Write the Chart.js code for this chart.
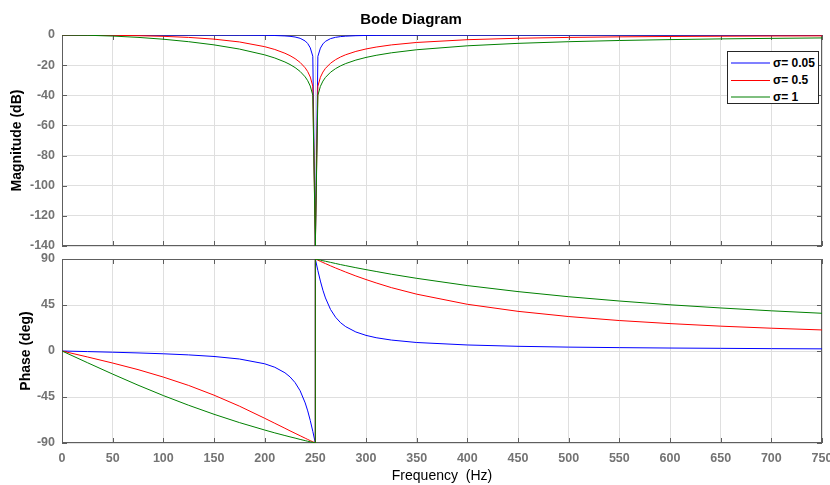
<!DOCTYPE html>
<html>
<head>
<meta charset="utf-8">
<script src="https://cdn.jsdelivr.net/npm/chart.js@4.4.1/dist/chart.umd.min.js"></script>
<style>
  body { margin: 0; background: #fff; font-family: 'Liberation Sans', Arial, sans-serif; }
  #lienzo { position: relative; width: 830px; height: 485px; overflow: hidden; }
  #magnitud { position: absolute; left: 0; top: 0; }
  #fase { position: absolute; left: 0; top: 251px; }
  #leyenda {
    position: absolute; left: 727px; top: 51px; width: 92px; height: 53px;
    box-sizing: border-box; border: 1px solid #262626; background: #fff;
    padding: 3px 0 0 3px;
  }
  .fila { position: relative; height: 16px; margin-bottom: 1px; font: bold 12px 'Liberation Sans', Arial, sans-serif; color: #000; }
  .muestra { position: absolute; left: 0; width: 39px; }
  .texto { position: absolute; left: 42px; top: 1px; line-height: 14px; }
</style>
</head>
<body>
<div id="lienzo">
  <canvas id="magnitud" width="830" height="251"></canvas>
  <canvas id="fase" width="830" height="234"></canvas>
  <div id="leyenda"></div>
</div>
<script>
// Datos (Hz, dB, grados)
const frecuencias = [0, 25, 50, 75, 100, 125, 150, 175, 200, 210, 220, 225, 230, 235, 240, 242.5, 245, 247.5, 250, 250,
  252.5, 255, 257.5, 260, 265, 270, 275, 280, 290, 300, 310, 325, 350, 400, 450, 500, 550, 600, 650, 700, 750];

const magAzul = [0, 0, 0, 0, -0.01, -0.02, -0.04, -0.08, -0.21, -0.34, -0.62, -0.88, -1.33, -2.18, -3.98, -5.68, -8.53, -14.1, -140, -140,
  -14.2, -8.7, -5.9, -4.2, -2.4, -1.53, -1.05, -0.77, -0.46, -0.31, -0.23, -0.15, -0.09, -0.05, -0.03, -0.02, -0.01, -0.01, -0.01, -0.01, -0.01];
const magRojo = [0, -0.04, -0.19, -0.45, -0.89, -1.6, -2.74, -4.6, -7.74, -9.61, -12.1, -13.7, -15.67, -18.21, -21.79, -24.32, -27.88, -33.94, -140, -140,
  -34.02, -28.05, -24.58, -22.13, -18.72, -16.35, -14.54, -13.09, -10.89, -9.26, -8.01, -6.58, -4.95, -3.12, -2.16, -1.6, -1.23, -0.98, -0.81, -0.67, -0.57];
const magVerde = [0, -0.17, -0.7, -1.57, -2.8, -4.44, -6.55, -9.31, -13.17, -15.26, -17.91, -19.58, -21.6, -24.18, -27.79, -30.33, -33.89, -39.96, -140, -140,
  -40.04, -34.07, -30.59, -28.13, -24.7, -22.29, -20.44, -18.95, -16.63, -14.88, -13.48, -11.82, -9.78, -7.17, -5.54, -4.44, -3.64, -3.05, -2.59, -2.23, -1.94];

const faseAzul = [0, -0.58, -1.19, -1.89, -2.73, -3.81, -5.36, -7.82, -12.5, -15.9, -21.3, -25.3, -30.9, -38.9, -50.8, -58.6, -68.0, -78.6, -90, 90,
  78.7, 68.4, 59.4, 51.9, 40.6, 33.0, 27.6, 23.8, 18.6, 15.3, 13.0, 10.7, 8.3, 5.9, 4.6, 3.8, 3.3, 2.9, 2.6, 2.3, 2.1];
const faseRojo = [0, -5.8, -11.8, -18.2, -25.5, -33.7, -43.2, -53.9, -65.8, -70.7, -75.6, -78.1, -80.5, -82.9, -85.3, -86.5, -87.7, -88.8, -90, 90,
  88.9, 87.7, 86.6, 85.5, 83.3, 81.2, 79.2, 77.2, 73.4, 69.9, 66.6, 62.0, 55.6, 45.7, 38.8, 33.7, 29.8, 26.8, 24.3, 22.3, 20.6];
const faseVerde = [0, -11.4, -22.6, -33.4, -43.6, -53.1, -61.9, -70.0, -77.3, -80.1, -82.7, -84.0, -85.2, -86.5, -87.7, -88.3, -88.8, -89.4, -90, 90,
  89.4, 88.9, 88.3, 87.8, 86.7, 85.6, 84.5, 83.5, 81.5, 79.6, 77.8, 75.1, 71.1, 64.0, 58.1, 53.1, 48.9, 45.2, 42.1, 39.3, 36.9];

const etiquetas = ['σ= 0.05', 'σ= 0.5', 'σ= 1'];
const colores = ['#0000ff', '#ff0000', '#008000'];

const ticksFrec = [0, 50, 100, 150, 200, 250, 300, 350, 400, 450, 500, 550, 600, 650, 700, 750];
const ticksMag = [-140, -120, -100, -80, -60, -40, -20, 0];
const ticksFase = [-90, -45, 0, 45, 90];

const FUENTE = "'Liberation Sans', Arial, sans-serif";
const GRIS_TICK = '#737373';
const GRIS_REJILLA = '#dfdfdf';

// marco de la grafica con marcas de tick hacia adentro
const marco = {
  id: 'marco',
  beforeDatasetsDraw(chart) {
    const { ctx, chartArea: a, scales } = chart;
    ctx.save();
    ctx.strokeStyle = '#5e5e5e';
    ctx.lineWidth = 1;
    ctx.strokeRect(a.left + 0.5, a.top + 0.5, a.right - a.left - 1, a.bottom - a.top - 1);
    ctx.beginPath();
    scales.x.ticks.forEach(t => {
      const px = Math.round(scales.x.getPixelForValue(t.value)) + 0.5;
      ctx.moveTo(px, a.top); ctx.lineTo(px, a.top + 5);
      ctx.moveTo(px, a.bottom); ctx.lineTo(px, a.bottom - 5);
    });
    scales.y.ticks.forEach(t => {
      const py = Math.round(scales.y.getPixelForValue(t.value)) + 0.5;
      ctx.moveTo(a.left, py); ctx.lineTo(a.left + 5, py);
      ctx.moveTo(a.right, py); ctx.lineTo(a.right - 5, py);
    });
    ctx.stroke();
    ctx.restore();
  }
};

const puntos = serie => frecuencias.map((f, i) => ({ x: f, y: serie[i] }));

function armarDatasets(series) {
  return series.map((s, i) => ({
    label: etiquetas[i],
    data: puntos(s),
    borderColor: colores[i],
    borderWidth: 1,
    pointRadius: 0,
    tension: 0,
    order: 2 - i
  }));
}

function opciones(cfg) {
  return {
    responsive: false,
    animation: false,
    layout: { padding: { left: 0, right: 8, top: cfg.padTop, bottom: 0 } },
    plugins: {
      legend: { display: false },
      tooltip: { enabled: false },
      title: cfg.titulo ? {
        display: true, text: cfg.titulo, color: '#000',
        font: { family: FUENTE, size: 15, weight: 'bold' },
        padding: { top: 11, bottom: 6 }
      } : { display: false }
    },
    scales: {
      x: {
        type: 'linear', min: 0, max: 750,
        afterBuildTicks: s => { s.ticks = ticksFrec.map(v => ({ value: v })); },
        ticks: { display: cfg.conEjeX, color: GRIS_TICK, padding: 8, maxRotation: 0, font: { family: FUENTE, size: 12.5, weight: 'bold' } },
        grid: { color: GRIS_REJILLA, drawTicks: false },
        border: { display: false },
        title: {
          display: cfg.conEjeX, text: 'Frequency  (Hz)', color: '#000',
          font: { family: FUENTE, size: 14 }, padding: { top: 0, bottom: 0 }
        },
        afterFit: s => { s.height = cfg.altoX; s.paddingLeft = 0; s.paddingRight = 0; }
      },
      y: {
        min: cfg.yMin, max: cfg.yMax,
        afterBuildTicks: s => { s.ticks = cfg.ticksY.map(v => ({ value: v })); },
        ticks: { color: GRIS_TICK, padding: 7, font: { family: FUENTE, size: 12.5, weight: 'bold' } },
        grid: { color: GRIS_REJILLA, drawTicks: false },
        border: { display: false },
        title: {
          display: true, text: cfg.tituloY, color: '#000',
          font: { family: FUENTE, size: 14, weight: 'bold' }, padding: { top: cfg.padTituloY, bottom: 0 }
        },
        afterFit: s => { s.width = 62; s.paddingTop = 0; s.paddingBottom = 0; }
      }
    }
  };
}

new Chart(document.getElementById('magnitud'), {
  type: 'line',
  data: { datasets: armarDatasets([magAzul, magRojo, magVerde]) },
  options: opciones({
    titulo: 'Bode Diagram', padTop: 0, conEjeX: false, altoX: 5,
    yMin: -140, yMax: 0, ticksY: ticksMag, tituloY: 'Magnitude (dB)', padTituloY: 9
  }),
  plugins: [marco]
});

new Chart(document.getElementById('fase'), {
  type: 'line',
  data: { datasets: armarDatasets([faseAzul, faseRojo, faseVerde]) },
  options: opciones({
    titulo: null, padTop: 8, conEjeX: true, altoX: 42,
    yMin: -90, yMax: 90, ticksY: ticksFase, tituloY: 'Phase (deg)', padTituloY: 18
  }),
  plugins: [marco]
});

// leyenda con recuadro, como la original
const leyenda = document.getElementById('leyenda');
const muestras = [
  { color: '#8080ff', alto: 2, arriba: 7 },
  { color: '#ff0000', alto: 1, arriba: 8 },
  { color: '#7fbf7f', alto: 2, arriba: 7 }
];
etiquetas.forEach((txt, i) => {
  const m = muestras[i];
  leyenda.innerHTML += `
    <div class="fila">
      <span class="muestra" style="top:${m.arriba}px;height:${m.alto}px;background:${m.color}"></span>
      <span class="texto">${txt}</span>
    </div>`;
});
</script>
</body>
</html>
